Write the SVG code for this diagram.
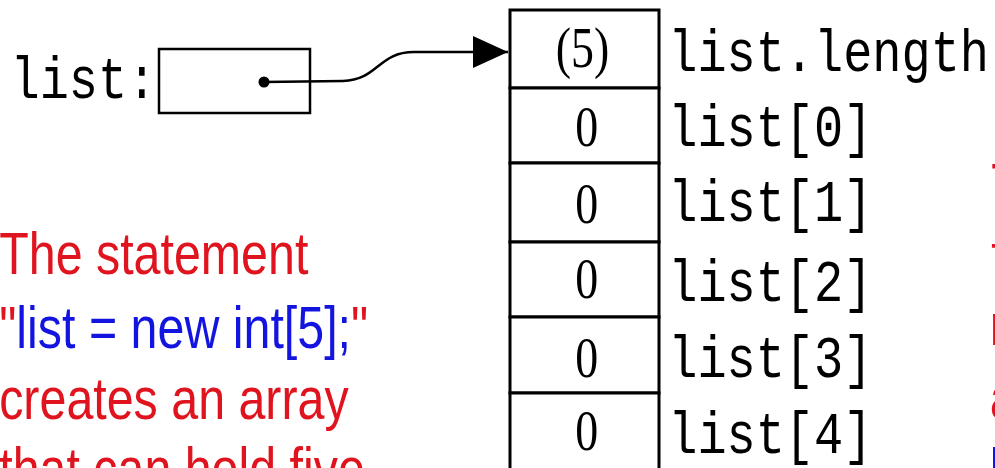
<svg xmlns="http://www.w3.org/2000/svg" width="995" height="468" viewBox="0 0 995 468">
<style>
.mono{font-family:"Liberation Mono","Courier New",monospace;font-size:60px;fill:#000}
.num{font-family:"Liberation Serif","Times New Roman",serif;font-size:56px;fill:#000;text-anchor:middle}
.red{font-family:"Liberation Sans",Arial,sans-serif;font-size:59px;fill:#e0141e}
.blue{fill:#1414e0}
.cell{fill:#fff;stroke:#000;stroke-width:3}
.conn{fill:none;stroke:#000;stroke-width:2.5}
</style>
<defs>
<marker id="ah" markerUnits="userSpaceOnUse" markerWidth="36" markerHeight="34" refX="35" refY="16" orient="auto">
<path d="M0,0 L35,16 L0,32 z" fill="#000"/>
</marker>
</defs>
<rect width="995" height="468" fill="#fff"/>

<g id="var-list">
<text class="mono" transform="scale(0.81 1)" x="13" y="98">list:</text>
<rect x="159" y="49" width="151" height="64" fill="#fff" stroke="#000" stroke-width="2.5"/>
<circle cx="264" cy="82" r="5.5" fill="#000"/>
</g>

<g id="connectors">
<path class="conn" d="M264,82 L343,81 C378,80 378,52 414,52 L508,52" marker-end="url(#ah)"/>
</g>

<g id="array">
<g id="cell-length">
<rect class="cell" x="510" y="10" width="149" height="78"/>
<text class="num" transform="scale(0.82 1)" x="710.4" y="67">(5)</text>
<text class="mono" transform="scale(0.81 1)" x="825" y="71">list.length</text>
</g>
<g id="cell-0">
<rect class="cell" x="510" y="88" width="149" height="75"/>
<text class="num" transform="scale(0.82 1)" x="715.5" y="146">0</text>
<text class="mono" transform="scale(0.81 1)" x="825" y="146">list[0]</text>
</g>
<g id="cell-1">
<rect class="cell" x="510" y="163" width="149" height="79"/>
<text class="num" transform="scale(0.82 1)" x="715.5" y="223">0</text>
<text class="mono" transform="scale(0.81 1)" x="825" y="221">list[1]</text>
</g>
<g id="cell-2">
<rect class="cell" x="510" y="242" width="149" height="75"/>
<text class="num" transform="scale(0.82 1)" x="715.5" y="298">0</text>
<text class="mono" transform="scale(0.81 1)" x="825" y="301">list[2]</text>
</g>
<g id="cell-3">
<rect class="cell" x="510" y="317" width="149" height="76"/>
<text class="num" transform="scale(0.82 1)" x="715.5" y="377">0</text>
<text class="mono" transform="scale(0.81 1)" x="825" y="377">list[3]</text>
</g>
<g id="cell-4">
<rect class="cell" x="510" y="393" width="149" height="80"/>
<text class="num" transform="scale(0.82 1)" x="715.5" y="450">0</text>
<text class="mono" transform="scale(0.81 1)" x="825" y="453">list[4]</text>
</g>
</g>

<g id="note-left" class="red" transform="scale(0.82 1)">
<text x="-1" y="274">The statement</text>
<text x="-1" y="348">"<tspan class="blue">list = new int[5];</tspan>"</text>
<text x="-1" y="419">creates an array</text>
<text x="-1" y="489">that can hold five</text>
</g>

<g id="note-right" class="red" transform="scale(0.82 1)">
<text x="1209" y="205">T</text>
<text x="1209" y="275">f</text>
<text x="1207" y="345">n</text>
<text x="1207" y="418">a</text>
<text x="1207" y="490" class="blue">l</text>
</g>
</svg>
